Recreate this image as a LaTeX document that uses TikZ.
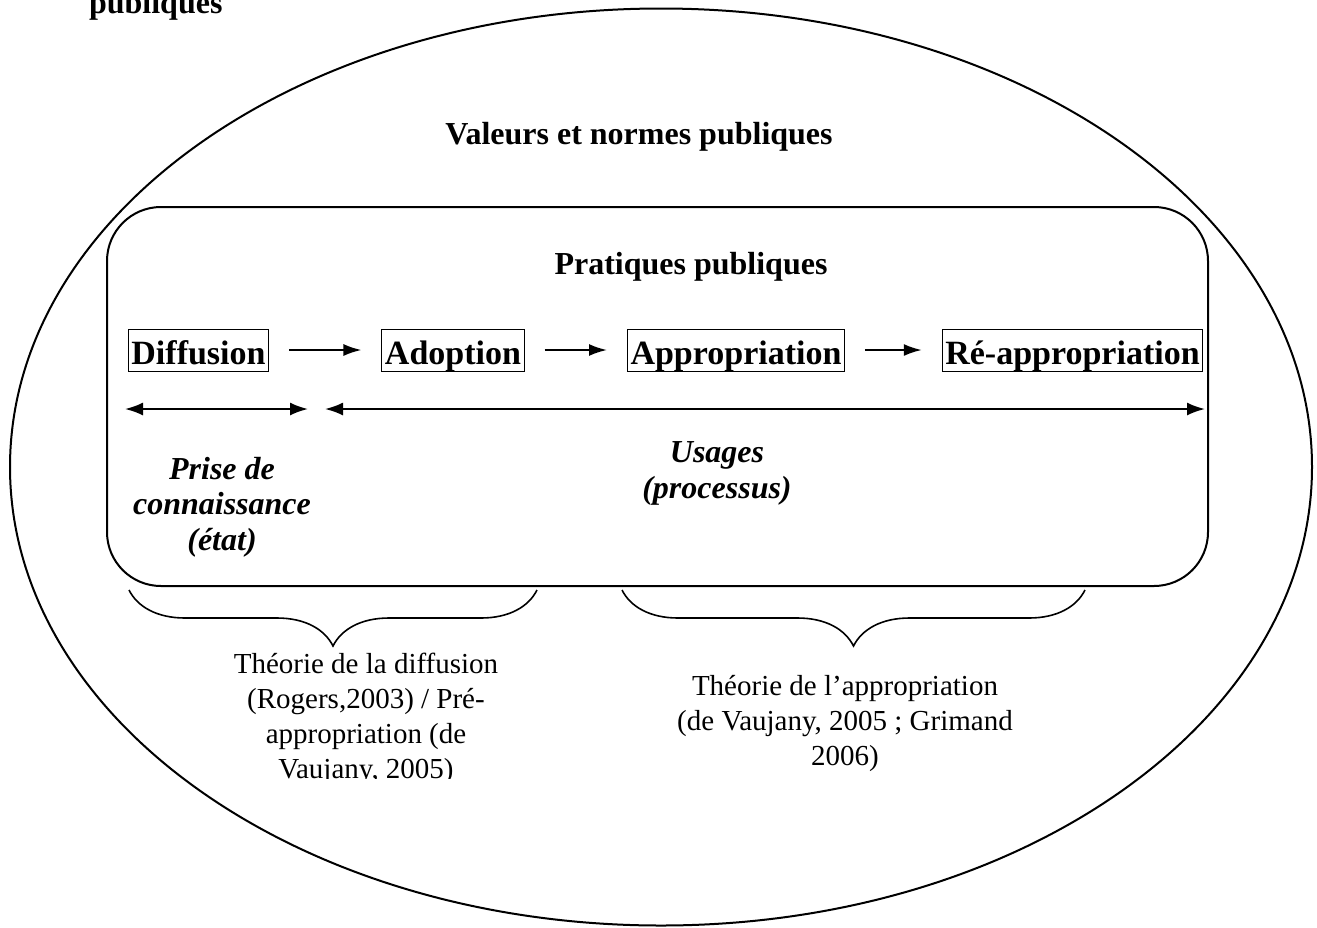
\documentclass[tikz,border=0pt]{standalone}
\usepackage{fontspec}
\setmainfont{Liberation Serif}
\usepackage{tikz}
\usetikzlibrary{positioning}
\usetikzlibrary{decorations.pathreplacing}
\usetikzlibrary{arrows.meta,shapes}

\begin{document}
\begin{tikzpicture}[x=0.5pt, y=-0.5pt,
	titre/.style={font=\fontsize{16}{18}\selectfont\bfseries, anchor=base},
	phase/.style={draw, rectangle, line width=0.5pt, inner xsep=1.5pt, inner ysep=0pt, text height=17.5pt, text depth=3.5pt, font=\fontsize{17}{20}\selectfont\bfseries},
	post/.style={->,draw,shorten >=10pt,shorten <=10pt,>={Latex[length=9pt,width=6pt]}, line width=1pt},
	duree/.style={<->,draw,>={Latex[length=9pt,width=6.5pt]}, line width=1pt},
	note/.style={align=center, anchor=base, font=\fontsize{16}{17.75}\selectfont\bfseries\itshape},
	theo/.style={align=center, anchor=base, font=\fontsize{14.5}{17.5}\selectfont},
	accolade/.style={decorate, decoration={brace, mirror, amplitude=28pt}, line width=0.8pt}]
	\useasboundingbox (0,0) rectangle (1317,927);
	
	% Cadres
	\node[draw, ellipse, line width=1pt, minimum width=651pt, minimum height=458.5pt, inner sep=0pt] (valeurs) at (661,467) {};
	\node[draw, rectangle, rounded corners=27pt, line width=1pt, minimum width=550.5pt, minimum height=189.5pt, inner sep=0pt] (pratiques) at (657.5,396.5) {};
	
	% Titres
	\node[titre, anchor=base west] (pub) at (82,13) {publiques};
	\node[titre] (tval) at (639,144) {Valeurs et normes publiques};
	\node[titre] (tpra) at (691,274) {Pratiques publiques};
	
	% Phases
	\node[phase] (diff) at (198.5,350) {Diffusion};
	\node[phase] (adop) at (453,350) {Adoption};
	\node[phase] (appr) at (736,350) {Appropriation};
	\node[phase] (reapp) at (1072.5,350) {Ré-appropriation};
	
	\path[post] (diff) to (adop);
	\path[post] (adop) to (appr);
	\path[post] (appr) to (reapp);
	
	% Durees
	\coordinate (c1) at (125,409);
	\coordinate (c2) at (308,409);
	\coordinate (c3) at (325,409);
	\coordinate (c4) at (1205,409);
	\path[duree] (c1) to (c2);
	\path[duree] (c3) to (c4);
	
	\node[note] (prise) at (222,550) {Prise de\\connaissance\\(état)};
	\node[note] (usages) at (717,498) {Usages\\(processus)};
	
	% Accolades
	\coordinate (b1) at (129,590);
	\coordinate (b2) at (537,590);
	\coordinate (b3) at (622,590);
	\coordinate (b4) at (1085,590);
	\draw[accolade] (b1) -- (b2);
	\draw[accolade] (b3) -- (b4);
	
	\begin{scope}
		\clip (0,0) rectangle (1317,778);
		\node[theo] (tdiff) at (366,778) {Théorie de la diffusion\\(Rogers,2003) / Pré-\\appropriation (de\\Vaujany, 2005)};
	\end{scope}
	\node[theo] (tappr) at (845,765) {Théorie de l’appropriation\\(de Vaujany, 2005 ; Grimand\\2006)};
\end{tikzpicture}
\end{document}
